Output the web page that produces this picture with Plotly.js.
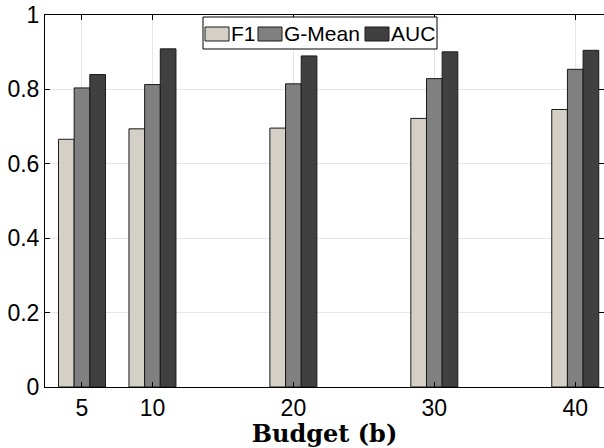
<!DOCTYPE html>
<html>
<head>
<meta charset="utf-8">
<script src="https://cdn.plot.ly/plotly-3.0.1.min.js"></script>
<style>html,body{margin:0;padding:0;background:#fff;}#chart{width:604px;height:448px;}</style>
</head>
<body>
<div id="chart"></div>
<script>
const budgets = [5, 10, 20, 30, 40];
const f1 = [0.666, 0.694, 0.696, 0.722, 0.746];
const gmean = [0.804, 0.813, 0.815, 0.829, 0.854];
const auc = [0.840, 0.909, 0.890, 0.901, 0.905];
const seriesNames = ['F1', 'G-Mean', 'AUC'];
const seriesColors = ['#d4d0c8', '#808080', '#404040'];
const yTicks = [0, 0.2, 0.4, 0.6, 0.8, 1];

const W = 604, H = 448;
const M = {l: 45, r: 0, t: 15, b: 61};
const pw = W - M.l - M.r, ph = H - M.t - M.b;
const px2x = p => (p - M.l) / pw;
const py2y = p => (H - M.b - p) / ph;
const SANS = 'Liberation Sans, Arial, Helvetica, sans-serif';

const vals = [f1, gmean, auc];
const traces = vals.map((v, i) => ({
  type: 'bar',
  x: budgets,
  y: v,
  name: seriesNames[i],
  marker: {color: seriesColors[i], line: {color: '#1a1a1a', width: 1}},
  hoverinfo: 'none'
}));

// custom MATLAB-style legend (positions in pixels)
const legBox = {x0: 203, x1: 437, y0: 17, y1: 49};
const itemX = [205, 258, 365];
const swW = 24, swY0 = 27, swY1 = 41;
const shapes = [{
  type: 'rect', xref: 'paper', yref: 'paper',
  x0: px2x(legBox.x0), x1: px2x(legBox.x1), y0: py2y(legBox.y1), y1: py2y(legBox.y0),
  fillcolor: '#fff', line: {color: '#000', width: 1}, layer: 'above'
}];
const annotations = [];
seriesNames.forEach((n, i) => {
  shapes.push({
    type: 'rect', xref: 'paper', yref: 'paper',
    x0: px2x(itemX[i]), x1: px2x(itemX[i] + swW), y0: py2y(swY1), y1: py2y(swY0),
    fillcolor: seriesColors[i], line: {color: '#1a1a1a', width: 1}, layer: 'above'
  });
  annotations.push({
    xref: 'paper', yref: 'paper', x: px2x(itemX[i] + swW), y: py2y(34),
    xanchor: 'left', yanchor: 'middle', showarrow: false, text: n,
    font: {family: SANS, size: 21, color: '#000'}
  });
});

const layout = {
  width: W, height: H,
  margin: M,
  paper_bgcolor: '#fff', plot_bgcolor: '#fff',
  barmode: 'group', bargap: 0.333, bargroupgap: 0,
  font: {family: SANS, size: 23, color: '#000'},
  xaxis: {
    range: [2.375, 42.04],
    tickvals: budgets, ticktext: budgets.map(String),
    ticks: 'inside', ticklen: 5, tickcolor: '#000', tickwidth: 1,
    showline: true, linecolor: '#000', linewidth: 1, mirror: 'ticks',
    showgrid: true, gridcolor: '#e6e6e6', gridwidth: 1, zeroline: false,
    tickfont: {family: SANS, size: 23},
    title: {text: 'Budget (b)', font: {family: 'DejaVu Serif, serif', size: 24, weight: 'bold', color: '#000'}, standoff: 5}
  },
  yaxis: {
    range: [0, 1],
    tickvals: yTicks, ticktext: yTicks.map(String),
    ticks: 'inside', ticklen: 5, tickcolor: '#000', tickwidth: 1,
    showline: true, linecolor: '#000', linewidth: 1, mirror: 'ticks',
    showgrid: true, gridcolor: '#e6e6e6', gridwidth: 1, zeroline: false,
    tickfont: {family: SANS, size: 23}
  },
  showlegend: false,
  shapes: shapes,
  annotations: annotations
};

Plotly.newPlot('chart', traces, layout, {displayModeBar: false, staticPlot: true});
</script>
</body>
</html>
